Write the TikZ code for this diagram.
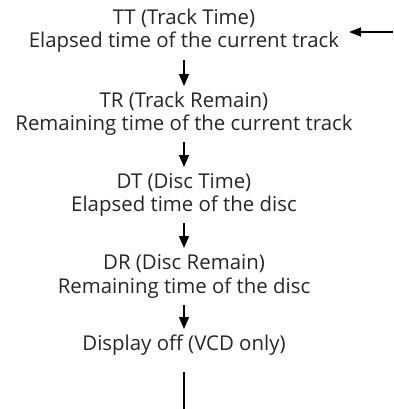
\documentclass[tikz,border=0pt]{standalone}
\usepackage{fontspec}
\setmainfont{Open Sans}
\usetikzlibrary{arrows.meta,calc}
\tikzset{
  lbl/.style={anchor=base,inner sep=0pt,font=\fontsize{20.4}{23}\selectfont,text=black!85},
  darr/.style={line width=1.7pt,-{Triangle[length=12pt,width=10pt]}},
  dline/.style={line width=1.7pt},
}
\begin{document}
\begin{tikzpicture}[x=1pt,y=-1pt]
\useasboundingbox (0,0) rectangle (393,409);
\node[lbl] (tt1) at (184,25) {TT (Track Time)};
\node[lbl] (tt2) at (184,48) {Elapsed time of the current track};
\node[lbl] (tr1) at (184,107) {TR (Track Remain)};
\node[lbl] (tr2) at (184,130) {Remaining time of the current track};
\node[lbl] (dt1) at (184,188) {DT (Disc Time)};
\node[lbl] (dt2) at (184,211) {Elapsed time of the disc};
\node[lbl] (dr1) at (184,269) {DR (Disc Remain)};
\node[lbl] (dr2) at (184,293) {Remaining time of the disc};
\node[lbl] (off) at (184,350) {Display off (VCD only)};
\draw[darr] ($(tt2.base)+(0,12)$) -- ($(tr1.base)+(0,-21)$);
\draw[darr] ($(tr2.base)+(0,12)$) -- ($(dt1.base)+(0,-21)$);
\draw[darr] ($(dt2.base)+(0,12)$) -- ($(dr1.base)+(0,-21)$);
\draw[darr] ($(dr2.base)+(0,12)$) -- ($(off.base)+(0,-21)$);
\coordinate (loopend) at (184,409);
\draw[dline] ($(off.base)+(0,22)$) -- (loopend);
\coordinate (loopin) at (393,32);
\coordinate (looptip) at (349,32);
\draw[line width=1.7pt,-{Triangle[length=12pt,width=9pt]}] (loopin) -- (looptip);
\end{tikzpicture}
\end{document}
